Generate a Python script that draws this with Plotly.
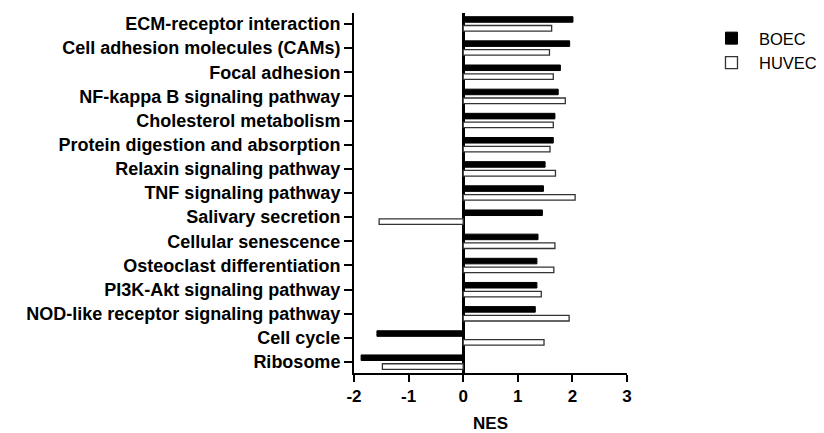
import plotly.graph_objects as go

categories = [
    "ECM-receptor interaction",
    "Cell adhesion molecules (CAMs)",
    "Focal adhesion",
    "NF-kappa B signaling pathway",
    "Cholesterol metabolism",
    "Protein digestion and absorption",
    "Relaxin signaling pathway",
    "TNF signaling pathway",
    "Salivary secretion",
    "Cellular senescence",
    "Osteoclast differentiation",
    "PI3K-Akt signaling pathway",
    "NOD-like receptor signaling pathway",
    "Cell cycle",
    "Ribosome",
]
boec = [2.01, 1.95, 1.78, 1.74, 1.68, 1.65, 1.50, 1.47, 1.45, 1.37, 1.35, 1.35, 1.32, -1.58, -1.87]
huvec = [1.62, 1.58, 1.65, 1.87, 1.65, 1.59, 1.69, 2.05, -1.54, 1.68, 1.66, 1.43, 1.94, 1.48, -1.48]
x_ticks = [-2, -1, 0, 1, 2, 3]

FONT = "Liberation Sans, Arial, sans-serif"
FS = 18

fig = go.Figure()
fig.add_trace(go.Bar(
    y=categories, x=boec, orientation="h", name="BOEC",
    marker=dict(color="black", line=dict(color="black", width=1)),
))
fig.add_trace(go.Bar(
    y=categories, x=huvec, orientation="h", name="HUVEC",
    marker=dict(color="white", line=dict(color="#333333", width=1.3)),
))

# page body has an 8px default margin, so the figure is sized/offset to compensate
fig.update_layout(
    width=816, height=425,
    margin=dict(l=346, r=197, t=5, b=60, autoexpand=False),
    paper_bgcolor="white", plot_bgcolor="white",
    barmode="group", bargap=0.27, bargroupgap=0.37,
    font=dict(family=FONT, color="black"),
    showlegend=True,
    legend=dict(
        x=1.282, y=0.978, xanchor="left", yanchor="top",
        font=dict(family=FONT, size=16.5, color="black"),
        itemwidth=45, tracegroupgap=0,
        bgcolor="rgba(0,0,0,0)",
    ),
)
fig.update_xaxes(
    range=[-2, 3], tickvals=x_ticks, ticktext=[str(v) for v in x_ticks],
    automargin=False,
    showgrid=False, showline=True, linecolor="black", linewidth=2,
    ticks="outside", ticklen=7, tickwidth=2, tickcolor="black",
    zeroline=True, zerolinecolor="black", zerolinewidth=2.5,
    tickfont=dict(family=FONT, size=17, color="black", weight="bold"),
    title=dict(text="<b>NES</b>", font=dict(family=FONT, size=17, color="black"), standoff=14),
)
fig.update_yaxes(
    categoryorder="array", categoryarray=categories,
    range=[14.45, -0.45], automargin=False,
    showgrid=False, showline=True, linecolor="black", linewidth=2,
    ticks="outside", ticklen=8, tickwidth=2, tickcolor="black",
    tickfont=dict(family=FONT, size=FS, color="black", weight="bold"),
)

fig.write_html("out.html")
